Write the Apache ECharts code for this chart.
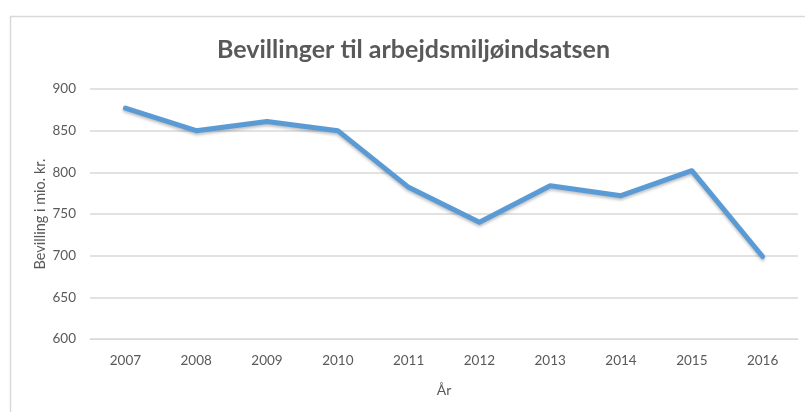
<!DOCTYPE html>
<html>
<head>
<meta charset="utf-8">
<script src="https://cdn.jsdelivr.net/npm/echarts@6/dist/echarts.min.js"></script>
<style>
html,body{margin:0;padding:0;background:#fff;}
#chart{width:805px;height:412px;}
</style>
</head>
<body>
<div id="chart"></div>
<script>
const years = ['2007','2008','2009','2010','2011','2012','2013','2014','2015','2016'];
const bevilling = [877, 850, 861, 850, 782, 740, 784, 772, 802, 699];
const titleText = 'Bevillinger til arbejdsmiljøindsatsen';
const yName = 'Bevilling i mio. kr.';
const xName = 'År';

const chart = echarts.init(document.getElementById('chart'), null, {renderer:'canvas'});
const font = 'Lato, "Open Sans", sans-serif';
chart.setOption({
  animation: false,
  backgroundColor: '#ffffff',
  graphic: [{
    type: 'rect', left: 8, top: 14, silent: true,
    shape: {width: 820, height: 420},
    style: {fill: 'none', stroke: '#d9d9d9', lineWidth: 1.5}
  }],
  title: {
    text: titleText, left: 212, top: 32,
    textStyle: {fontFamily: font, fontSize: 25, fontWeight: 'bold', color: '#595959'}
  },
  grid: {left: 90, right: 7, top: 89, bottom: 73},
  xAxis: {
    type: 'category', data: years, boundaryGap: true,
    name: xName, nameLocation: 'middle', nameGap: 44, nameMoveOverlap: false,
    nameTextStyle: {fontFamily: font, fontSize: 14, color: '#595959'},
    axisLine: {show: true, lineStyle: {color: '#d9d9d9', width: 1}},
    axisTick: {show: false},
    axisLabel: {fontFamily: font, fontSize: 13.5, color: '#595959', margin: 15}
  },
  yAxis: {
    type: 'value', min: 600, max: 900, interval: 50,
    name: yName, nameLocation: 'middle', nameGap: 42, nameMoveOverlap: false,
    nameTextStyle: {fontFamily: font, fontSize: 14.5, color: '#595959'},
    axisLine: {show: false}, axisTick: {show: false},
    axisLabel: {fontFamily: font, fontSize: 13.5, color: '#595959', margin: 14},
    splitLine: {lineStyle: {color: '#d9d9d9', width: 1.5}}
  },
  series: [{
    type: 'line', data: bevilling, symbol: 'none',
    lineStyle: {color: '#5b9bd5', width: 5, shadowColor: 'rgba(0,0,0,0.25)', shadowBlur: 3, shadowOffsetY: 2, cap: 'round', join: 'round'}
  }]
});
</script>
</body>
</html>
